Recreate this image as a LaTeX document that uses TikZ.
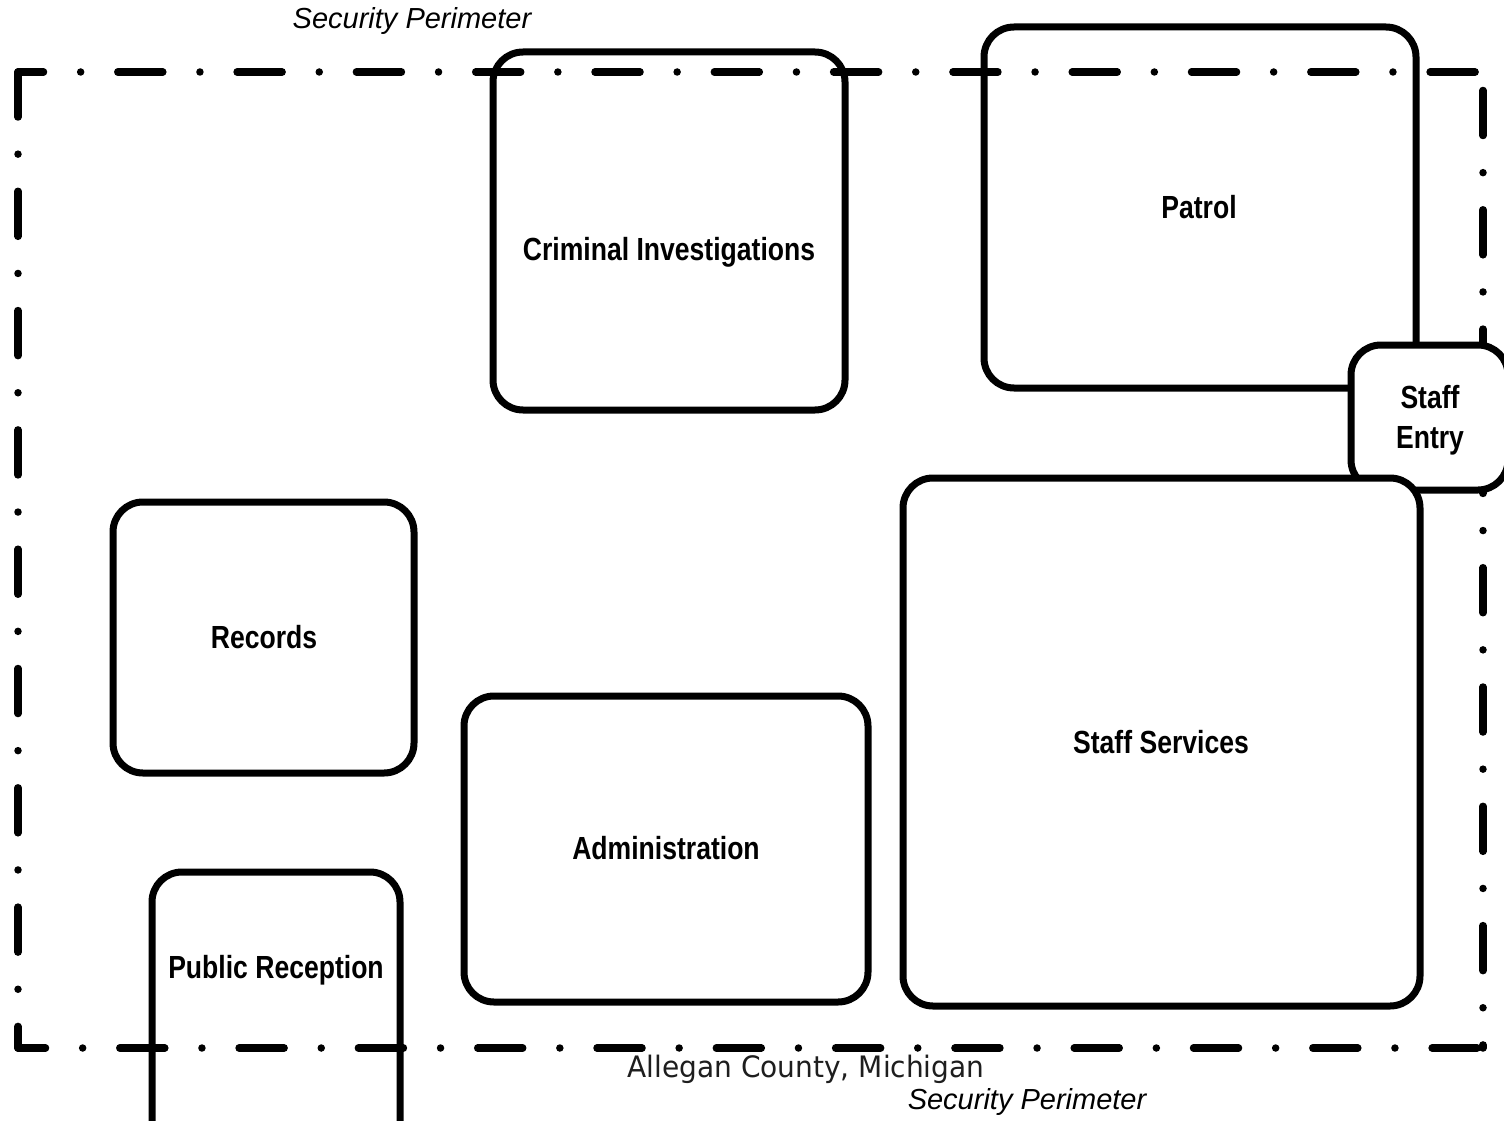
\documentclass[tikz,border=0pt]{standalone}
\usepackage{fontspec}
\newfontfamily\boxfont{Liberation Sans}[FakeStretch=0.83]
\newfontfamily\perimfont{Liberation Sans}
\newfontfamily\placefont{DejaVu Sans}[FakeStretch=0.95]
\definecolor{placegray}{RGB}{30,30,30}
\tikzset{
  zone/.style={draw=black, line width=7pt, rounded corners=30pt},
  zonefill/.style={zone, fill=white},
  perim/.style={draw=black, line width=7.5pt, line cap=round,
    dash pattern=on 45pt off 37.15pt on 0pt off 37.15pt},
  lbl/.style={inner sep=0pt, anchor=base, align=center,
    font=\boxfont\bfseries\fontsize{32}{39.5}\selectfont},
  plbl/.style={inner sep=0pt, anchor=base,
    font=\perimfont\itshape\fontsize{29}{34}\selectfont},
  clbl/.style={inner sep=0pt, anchor=base, text=placegray,
    font=\placefont\fontsize{29.5}{34}\selectfont}
}
\begin{document}
\begin{tikzpicture}[x=1pt,y=-1pt]
\path[use as bounding box, clip] (0,0) rectangle (1504,1121);
\fill[white] (0,0) rectangle (1504,1121);

% security perimeter
\coordinate (ptl) at (18,72);
\coordinate (ptr) at (1483,72);
\coordinate (pbl) at (18,1048);
\coordinate (pbr) at (1483,1048);
\draw[perim, dash phase=19.5pt] (ptl) -- (ptr);
\draw[perim, dash phase=17.5pt] (pbl) -- (pbr);
\draw[perim, dash phase=0pt] (ptl) -- (pbl);
\draw[perim, dash phase=100.8pt] (ptr) -- (pbr);

% zones
\draw[zone] (493,52) rectangle (845,410);
\draw[zone] (113,502) rectangle (414,773);
\draw[zone] (464,696) rectangle (868,1002);
\draw[zone] (152,872) rectangle (400,1160);
\draw[zone] (984,27) rectangle (1416,388);
\draw[zonefill] (1351,345) rectangle (1508,490);
\draw[zonefill] (903,478) rectangle (1420,1006);

% labels
\node[lbl] (crim) at (669,260) {Criminal Investigations};
\node[lbl] (patrol) at (1199,218) {Patrol};
\node[lbl] (entry) at (1430,448) {Staff\\Entry};
\node[lbl] (records) at (264,648.5) {Records};
\node[lbl] (services) at (1161,753) {Staff Services};
\node[lbl] (admin) at (666,859.5) {Administration};
\node[lbl] (reception) at (276,978) {Public Reception};

\node[plbl] (ptop) at (412,29) {Security Perimeter};
\node[clbl] (county) at (806,1077) {Allegan County, Michigan};
\node[plbl] (pbot) at (1027,1109) {Security Perimeter};
\end{tikzpicture}
\end{document}
